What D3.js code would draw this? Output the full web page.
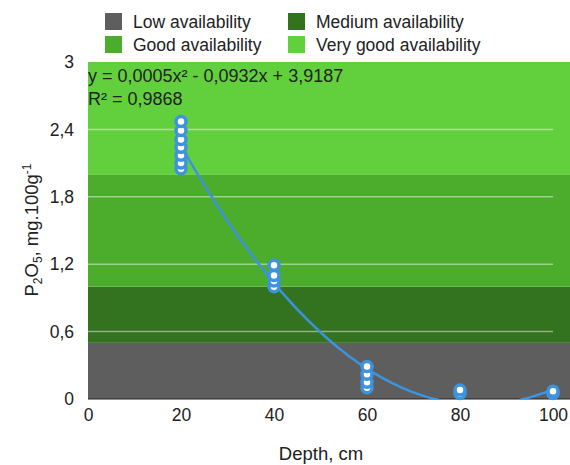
<!DOCTYPE html>
<html>
<head>
<meta charset="utf-8">
<script src="https://cdn.jsdelivr.net/npm/d3@7"></script>
<style>
  body { margin: 0; background: #fff; }
  text { font-family: "Liberation Sans", Arial, sans-serif; fill: #222; }
</style>
</head>
<body>
<svg id="chart" width="570" height="465"></svg>
<script>
// availability classes (P2O5, mg.100g-1)
var bandNames = ["Low availability", "Medium availability", "Good availability", "Very good availability"];
var bandFrom = [0, 0.5, 1.0, 2.0];
var bandTo = [0.5, 1.0, 2.0, 3.0];
var bandColors = ["#5e5e5e", "#33721f", "#4cad2c", "#62d03d"];

// measured points
var depth = [20, 20, 20, 20, 20, 20, 20, 40, 40, 40, 40, 60, 60, 60, 60, 80, 80, 100, 100];
var p2o5 = [2.05, 2.1, 2.17, 2.24, 2.31, 2.39, 2.47, 1.0, 1.05, 1.1, 1.19, 0.1, 0.15, 0.22, 0.29, 0.05, 0.08, 0.05, 0.07];

var xTicks = [0, 20, 40, 60, 80, 100];
var yTicks = [0, 0.6, 1.2, 1.8, 2.4, 3];

var svg = d3.select("#chart");

var margin = {top: 62, left: 88, bottom: 66, right: 0},
    width = 570, height = 465;

var x = d3.scaleLinear().domain([0, 100]).range([margin.left, 553]);
var y = d3.scaleLinear().domain([0, 3]).range([height - margin.bottom, margin.top]);

var comma = function(v) { return String(v).replace(".", ","); };

svg.append("defs").append("clipPath").attr("id", "plot")
    .append("rect")
    .attr("x", margin.left).attr("y", margin.top)
    .attr("width", width - margin.left).attr("height", y(0) - margin.top);

// bands
svg.append("g").selectAll("rect")
    .data(bandNames)
    .enter().append("rect")
    .attr("x", margin.left)
    .attr("width", width - margin.left)
    .attr("y", function(d, i) { return y(bandTo[i]); })
    .attr("height", function(d, i) { return y(bandFrom[i]) - y(bandTo[i]); })
    .attr("fill", function(d, i) { return bandColors[i]; });

// grid
svg.append("g").selectAll("line")
    .data(yTicks.slice(1, -1))
    .enter().append("line")
    .attr("x1", x(0)).attr("x2", x(100))
    .attr("y1", function(d) { return y(d); })
    .attr("y2", function(d) { return y(d); })
    .attr("stroke", "#fff").attr("stroke-opacity", 0.45).attr("stroke-width", 1.5);

svg.append("line")
    .attr("x1", margin.left).attr("x2", width)
    .attr("y1", y(0)).attr("y2", y(0))
    .attr("stroke", "#222").attr("stroke-width", 1.2);

// axes
var xAxis = svg.append("g")
    .attr("transform", `translate(0,${y(0)})`)
    .call(d3.axisBottom(x).tickValues(xTicks).tickSize(0).tickPadding(10).tickFormat(comma));
var yAxis = svg.append("g")
    .attr("transform", `translate(${margin.left},0)`)
    .call(d3.axisLeft(y).tickValues(yTicks).tickSize(0).tickPadding(14).tickFormat(comma));
[xAxis, yAxis].forEach(function(a) {
    a.select(".domain").remove();
    a.selectAll("text").style("font-size", "17.5px").attr("fill", "#222");
});

// trend line: least squares cubic fit of the points
function polyfit(xs, ys, deg) {
    var n = deg + 1, A = [], b = [];
    for (var i = 0; i < n; i++) {
        A.push([]);
        for (var j = 0; j < n; j++) A[i].push(d3.sum(xs, function(v) { return Math.pow(v, i + j); }));
        b.push(d3.sum(xs, function(v, k) { return Math.pow(v, i) * ys[k]; }));
    }
    for (var c = 0; c < n; c++) {
        for (var r = c + 1; r < n; r++) {
            var f = A[r][c] / A[c][c];
            for (var k = c; k < n; k++) A[r][k] -= f * A[c][k];
            b[r] -= f * b[c];
        }
    }
    var coef = new Array(n);
    for (var r2 = n - 1; r2 >= 0; r2--) {
        var s = b[r2];
        for (var k2 = r2 + 1; k2 < n; k2++) s -= A[r2][k2] * coef[k2];
        coef[r2] = s / A[r2][r2];
    }
    return coef;
}
var coef = polyfit(depth, p2o5, 3);
var fitX = d3.range(20, 100.5, 1);
var line = d3.line()
    .x(function(d) { return x(d); })
    .y(function(d) { return y(coef.reduce(function(s, c, i) { return s + c * Math.pow(d, i); }, 0)); })
    .curve(d3.curveBasis);

svg.append("path")
    .datum(fitX)
    .attr("clip-path", "url(#plot)")
    .attr("d", line)
    .attr("fill", "none")
    .attr("stroke", "#3d93de")
    .attr("stroke-width", 2.5);

// points
svg.append("g").selectAll("circle")
    .data(depth)
    .enter().append("circle")
    .attr("cx", function(d) { return x(d); })
    .attr("cy", function(d, i) { return y(p2o5[i]); })
    .attr("r", 5)
    .attr("fill", "#fff")
    .attr("stroke", "#3d93de")
    .attr("stroke-width", 3.5);

// equation
svg.append("text").attr("x", margin.left).attr("y", 82)
    .style("font-size", "18px").attr("fill", "#1c2a14")
    .text("y = 0,0005x² - 0,0932x + 3,9187");
svg.append("text").attr("x", margin.left).attr("y", 105)
    .style("font-size", "18px").attr("fill", "#1c2a14")
    .text("R² = 0,9868");

// axis titles
svg.append("text")
    .attr("x", 321).attr("y", 460)
    .attr("text-anchor", "middle")
    .style("font-size", "18.5px")
    .text("Depth, cm");

var yt = svg.append("text")
    .attr("transform", "translate(38,230) rotate(-90)")
    .attr("text-anchor", "middle")
    .style("font-size", "18.5px");
yt.append("tspan").text("P");
yt.append("tspan").attr("dy", 4).style("font-size", "12px").text("2");
yt.append("tspan").attr("dy", -4).text("O");
yt.append("tspan").attr("dy", 4).style("font-size", "12px").text("5");
yt.append("tspan").attr("dy", -4).text(", mg.100g");
yt.append("tspan").attr("dy", -7).style("font-size", "12px").text("-1");

// legend: order as in the picture (two columns)
var legendOrder = [0, 1, 2, 3];
var legendPos = [[105, 13], [288, 13], [105, 36], [288, 36]];
var legendName = ["Low availability", "Medium availability", "Good availability", "Very good availability"];
var legendColor = ["#5e5e5e", "#33721f", "#4cad2c", "#62d03d"];
var lg = svg.append("g").selectAll("g")
    .data(legendOrder)
    .enter().append("g")
    .attr("transform", function(d) { return `translate(${legendPos[d][0]},${legendPos[d][1]})`; });
lg.append("rect").attr("width", 17).attr("height", 17)
    .attr("fill", function(d) { return legendColor[d]; });
lg.append("text").attr("x", 28).attr("y", 15)
    .style("font-size", "17.5px")
    .text(function(d) { return legendName[d]; });
</script>
</body>
</html>
